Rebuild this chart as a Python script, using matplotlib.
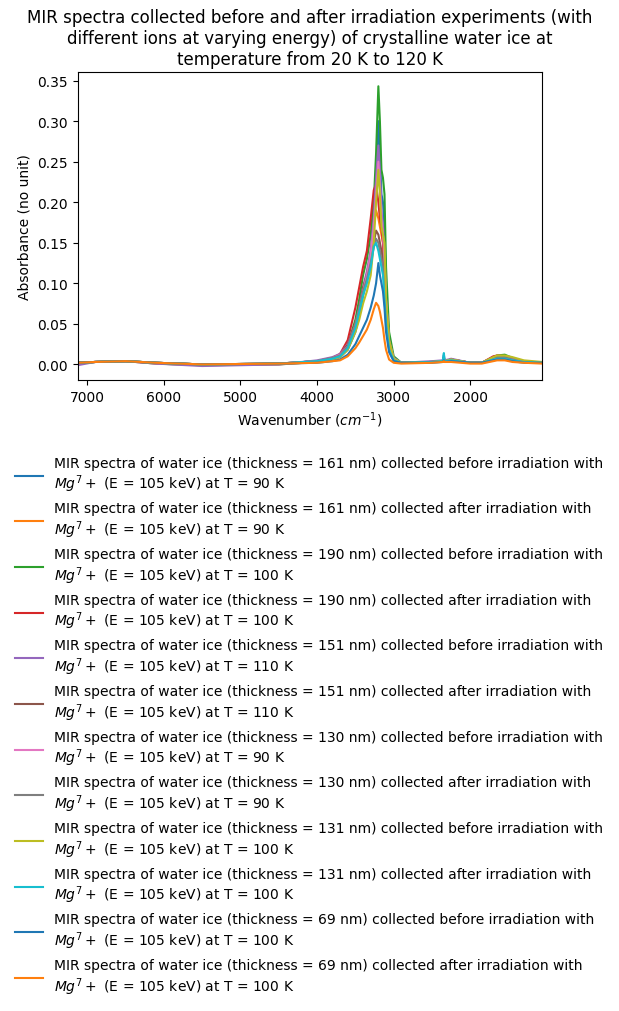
import numpy as np
import matplotlib
matplotlib.use("Agg")
import matplotlib.pyplot as plt

# wavenumber grid (cm-1)
wn = [7125, 6900, 6500, 6100, 5500, 4500, 4000, 3800, 3700, 3600, 3500, 3450, 3400, 3350,
      3300, 3260, 3230, 3200, 3180, 3160, 3140, 3120, 3100, 3060, 3000, 2900, 2500, 2360,
      2345, 2335, 2250, 2000, 1850, 1700, 1650, 1550, 1450, 1300, 1060]

# absorbance of each spectrum at the grid points
s161_before = [0.002, 0.003, 0.004, 0.001, -0.001, 0.0, 0.003, 0.006, 0.009, 0.018, 0.04, 0.06, 0.085, 0.105,
               0.13, 0.17, 0.22, 0.30, 0.26, 0.21, 0.20, 0.17, 0.09, 0.03, 0.006, 0.002, 0.003, 0.004,
               0.012, 0.004, 0.006, 0.002, 0.002, 0.007, 0.008, 0.009, 0.006, 0.003, 0.002]
s161_after = [0.002, 0.003, 0.004, 0.001, -0.001, 0.0, 0.003, 0.006, 0.01, 0.02, 0.045, 0.065, 0.09, 0.11,
              0.14, 0.17, 0.19, 0.18, 0.17, 0.16, 0.15, 0.12, 0.07, 0.025, 0.006, 0.002, 0.003, 0.004,
              0.008, 0.004, 0.006, 0.002, 0.002, 0.007, 0.009, 0.008, 0.006, 0.003, 0.002]
s190_before = [0.002, 0.003, 0.004, 0.002, 0.0, 0.001, 0.004, 0.007, 0.011, 0.024, 0.055, 0.08, 0.11, 0.13,
               0.16, 0.20, 0.26, 0.343, 0.30, 0.24, 0.23, 0.21, 0.12, 0.04, 0.01, 0.002, 0.003, 0.004,
               0.006, 0.004, 0.006, 0.002, 0.002, 0.009, 0.011, 0.012, 0.008, 0.004, 0.002]
s190_after = [0.002, 0.003, 0.004, 0.002, 0.0, 0.001, 0.004, 0.008, 0.013, 0.03, 0.07, 0.095, 0.12, 0.14,
              0.18, 0.215, 0.222, 0.20, 0.18, 0.17, 0.15, 0.10, 0.06, 0.02, 0.006, 0.002, 0.003, 0.004,
              0.009, 0.004, 0.006, 0.002, 0.002, 0.010, 0.011, 0.010, 0.007, 0.003, 0.002]
s151_before = [-0.001, 0.003, 0.004, 0.001, -0.002, 0.0, 0.005, 0.009, 0.013, 0.025, 0.05, 0.07, 0.095, 0.115,
               0.14, 0.18, 0.23, 0.27, 0.24, 0.19, 0.17, 0.14, 0.08, 0.03, 0.008, 0.002, 0.004, 0.005,
               0.007, 0.005, 0.007, 0.002, 0.002, 0.008, 0.010, 0.010, 0.007, 0.003, 0.002]
s151_after = [0.002, 0.003, 0.004, 0.002, 0.0, 0.001, 0.004, 0.008, 0.012, 0.024, 0.05, 0.07, 0.095, 0.11,
              0.13, 0.15, 0.165, 0.16, 0.15, 0.14, 0.13, 0.10, 0.06, 0.02, 0.006, 0.002, 0.003, 0.004,
              0.007, 0.004, 0.006, 0.002, 0.002, 0.008, 0.009, 0.009, 0.006, 0.003, 0.002]
s130_before = [0.002, 0.003, 0.004, 0.002, 0.0, 0.001, 0.004, 0.008, 0.012, 0.022, 0.048, 0.068, 0.09, 0.11,
               0.135, 0.17, 0.21, 0.25, 0.22, 0.18, 0.16, 0.13, 0.08, 0.028, 0.007, 0.002, 0.003, 0.004,
               0.007, 0.004, 0.006, 0.002, 0.002, 0.008, 0.009, 0.009, 0.006, 0.003, 0.002]
s130_after = [0.002, 0.003, 0.004, 0.002, 0.0, 0.001, 0.004, 0.008, 0.011, 0.022, 0.048, 0.068, 0.09, 0.105,
              0.125, 0.145, 0.155, 0.15, 0.14, 0.13, 0.12, 0.095, 0.055, 0.02, 0.006, 0.002, 0.003, 0.004,
              0.007, 0.004, 0.006, 0.002, 0.002, 0.008, 0.009, 0.009, 0.006, 0.003, 0.002]
s131_before = [0.002, 0.003, 0.004, 0.002, 0.0, 0.001, 0.003, 0.006, 0.009, 0.018, 0.04, 0.055, 0.075, 0.09,
               0.11, 0.15, 0.20, 0.24, 0.21, 0.17, 0.16, 0.15, 0.08, 0.03, 0.007, 0.002, 0.003, 0.004,
               0.008, 0.004, 0.006, 0.002, 0.002, 0.009, 0.011, 0.011, 0.009, 0.005, 0.003]
s131_after = [0.002, 0.003, 0.004, 0.002, 0.0, 0.001, 0.004, 0.007, 0.010, 0.02, 0.045, 0.065, 0.085, 0.10,
              0.12, 0.145, 0.15, 0.14, 0.13, 0.12, 0.11, 0.08, 0.05, 0.018, 0.005, 0.002, 0.003, 0.004,
              0.014, 0.004, 0.005, 0.002, 0.002, 0.006, 0.007, 0.007, 0.005, 0.003, 0.002]
s69_before = [0.002, 0.003, 0.004, 0.002, 0.0, 0.001, 0.002, 0.004, 0.006, 0.012, 0.025, 0.035, 0.045, 0.055,
              0.07, 0.085, 0.10, 0.125, 0.11, 0.10, 0.09, 0.07, 0.04, 0.015, 0.004, 0.002, 0.002, 0.003,
              0.005, 0.003, 0.004, 0.002, 0.002, 0.005, 0.006, 0.006, 0.004, 0.002, 0.002]
s69_after = [0.002, 0.003, 0.004, 0.002, 0.0, 0.001, 0.002, 0.004, 0.005, 0.01, 0.02, 0.027, 0.035, 0.043,
             0.055, 0.068, 0.076, 0.072, 0.065, 0.055, 0.045, 0.03, 0.018, 0.006, 0.002, 0.001, 0.002, 0.003,
             0.004, 0.003, 0.003, 0.001, 0.001, 0.004, 0.005, 0.005, 0.003, 0.002, 0.001]

spectra = [s161_before, s161_after, s190_before, s190_after, s151_before, s151_after,
           s130_before, s130_after, s131_before, s131_after, s69_before, s69_after]
thickness = [161, 161, 190, 190, 151, 151, 130, 130, 131, 131, 69, 69]
when = ["before", "after"] * 6
temps = [90, 90, 100, 100, 110, 110, 90, 90, 100, 100, 100, 100]

fig = plt.figure(figsize=(6.19, 10.12), dpi=100)
ax = fig.add_axes([0.1255, 0.6235, 0.7506, 0.3041])

for y, th, w, T in zip(spectra, thickness, when, temps):
    label = ("MIR spectra of water ice (thickness = {} nm) collected {} irradiation with\n"
             "$Mg^7+$ (E = 105 keV) at T = {} K".format(th, w, T))
    ax.plot(wn, y, label=label)

ax.set_xlim(max(wn), min(wn))
ax.set_xlabel("Wavenumber ($cm^{-1}$)")
ax.set_ylabel("Absorbance (no unit)")
ax.set_title("MIR spectra collected before and after irradiation experiments (with\n"
             "different ions at varying energy) of crystalline water ice at\n"
             "temperature from 20 K to 120 K")

handles, labels = ax.get_legend_handles_labels()
fig.legend(handles, labels, loc="upper left", bbox_to_anchor=(0.004, 0.561), frameon=False)

fig.savefig("out.png", dpi=100)
